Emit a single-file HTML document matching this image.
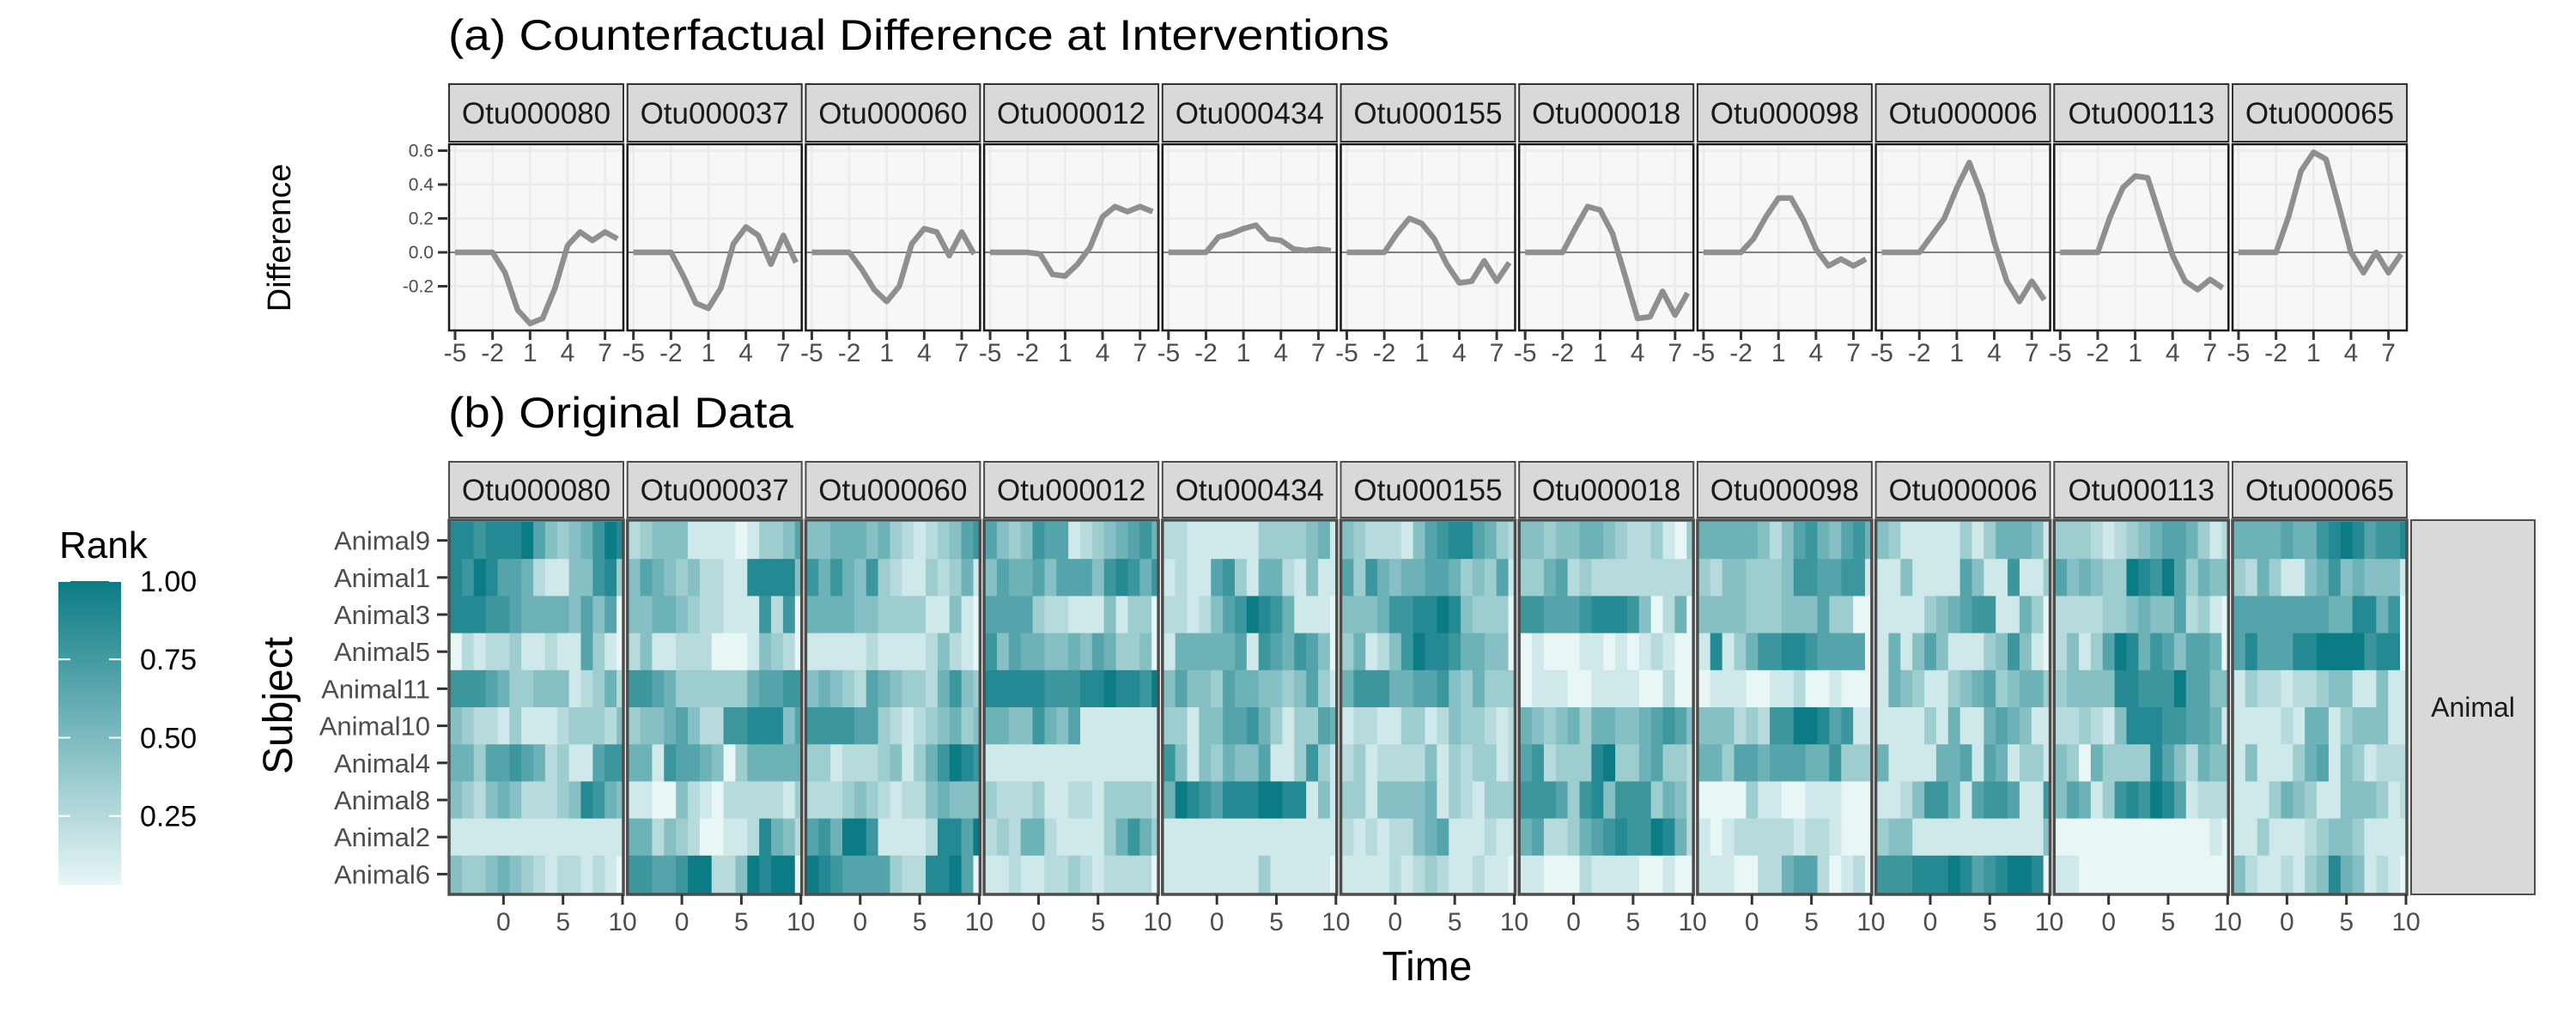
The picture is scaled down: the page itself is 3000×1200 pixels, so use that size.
<!DOCTYPE html>
<html><head><meta charset="utf-8"><style>
html,body{margin:0;padding:0;background:#fff;}
svg{display:block;font-family:"Liberation Sans",sans-serif;}
</style></head><body>
<svg id="chart" width="3000" height="1200" viewBox="0 0 3000 1200" xmlns="http://www.w3.org/2000/svg">
<defs>
<linearGradient id="rankGrad" x1="0" y1="1" x2="0" y2="0">
<stop offset="0" stop-color="#e8f6f6"/><stop offset="1" stop-color="#0b7b85"/>
</linearGradient>
</defs>
<text x="522" y="58" font-size="50" textLength="1096" lengthAdjust="spacingAndGlyphs" fill="#000">(a) Counterfactual Difference at Interventions</text>
<text x="522" y="498" font-size="50" textLength="402" lengthAdjust="spacingAndGlyphs" fill="#000">(b) Original Data</text>
<text transform="translate(338,277) rotate(-90)" text-anchor="middle" font-size="38" fill="#000">Difference</text>
<text transform="translate(340,822) rotate(-90)" text-anchor="middle" font-size="48" fill="#000">Subject</text>
<text x="1662" y="1142" text-anchor="middle" font-size="48" fill="#000">Time</text>
<g id="legend">
<text x="69" y="650" font-size="44" fill="#000">Rank</text>
<rect x="68" y="677" width="73" height="354" fill="url(#rankGrad)"/>
</g>
<g id="g"></g>
</svg>
<script>
// ---------- data ----------
const otuNames = ["Otu000080","Otu000037","Otu000060","Otu000012","Otu000434","Otu000155","Otu000018","Otu000098","Otu000006","Otu000113","Otu000065"];
const diffTimes = [-5,-4,-3,-2,-1,0,1,2,3,4,5,6,7,8];
const diffOtu080 = [0,0,0,0,-0.12,-0.34,-0.42,-0.39,-0.21,0.04,0.12,0.07,0.12,0.08];
const diffOtu037 = [0,0,0,0,-0.14,-0.30,-0.33,-0.21,0.05,0.15,0.10,-0.07,0.10,-0.06];
const diffOtu060 = [0,0,0,0,-0.10,-0.22,-0.29,-0.20,0.05,0.14,0.12,-0.02,0.12,-0.01];
const diffOtu012 = [0,0,0,0,-0.01,-0.13,-0.14,-0.07,0.03,0.21,0.27,0.24,0.27,0.24];
const diffOtu434 = [0,0,0,0,0.09,0.11,0.14,0.16,0.08,0.07,0.02,0.01,0.02,0.01];
const diffOtu155 = [0,0,0,0,0.11,0.20,0.17,0.08,-0.07,-0.18,-0.17,-0.05,-0.17,-0.06];
const diffOtu018 = [0,0,0,0,0.14,0.27,0.25,0.11,-0.14,-0.39,-0.38,-0.23,-0.37,-0.24];
const diffOtu098 = [0,0,0,0,0.08,0.21,0.32,0.32,0.19,0.02,-0.08,-0.04,-0.08,-0.04];
const diffOtu006 = [0,0,0,0,0.10,0.20,0.38,0.53,0.34,0.06,-0.17,-0.29,-0.17,-0.28];
const diffOtu113 = [0,0,0,0,0.21,0.38,0.45,0.44,0.21,-0.02,-0.17,-0.22,-0.16,-0.21];
const diffOtu065 = [0,0,0,0,0.21,0.48,0.59,0.55,0.28,0.00,-0.12,0.00,-0.12,-0.01];
const diffSeries = [diffOtu080,diffOtu037,diffOtu060,diffOtu012,diffOtu434,diffOtu155,diffOtu018,diffOtu098,diffOtu006,diffOtu113,diffOtu065];
const diffYTicks = [-0.2,0.0,0.2,0.4,0.6];
const diffYTickLabels = ["-0.2","0.0","0.2","0.4","0.6"];
const diffXTicks = [-5,-2,1,4,7];

const subjects = ["Animal9","Animal1","Animal3","Animal5","Animal11","Animal10","Animal4","Animal8","Animal2","Animal6"];
const heatTimes = [-4,-3,-2,-1,0,1,2,3,4,5,6,7,8,9,10];
const heatXTicks = [0,5,10];
const legendTicks = [0.25,0.50,0.75,1.00];
const legendTickLabels = ["0.25","0.50","0.75","1.00"];
// rank values (x10) per subject row, per time column
const rankOtu080 = [[8,8,7,8,8,8,9,6,4,3,4,5,7,9,8],[8,7,9,8,6,6,5,2,1,1,4,4,7,8,3],[8,8,8,7,7,6,5,5,5,5,4,6,4,6,0],[0,2,1,2,2,3,1,1,2,1,1,6,3,1,0],[7,7,7,6,5,3,3,4,4,4,1,2,3,5,2],[4,3,2,2,1,3,1,1,1,2,3,3,3,2,4],[5,5,3,6,6,7,6,5,2,3,1,1,6,7,7],[4,3,2,4,5,4,2,2,2,3,4,8,7,5,4],[1,1,1,1,1,1,1,1,1,1,1,1,1,1,1],[4,3,3,4,5,4,3,2,1,2,2,1,2,1,0]];
const rankOtu037 = [[2,3,4,4,4,1,1,1,1,0,1,3,3,4,6],[4,6,5,4,3,4,2,2,1,1,8,8,8,8,4],[4,4,5,5,4,3,2,2,1,1,1,7,2,7,0],[2,4,1,1,2,2,2,0,0,0,1,4,3,2,0],[7,7,6,5,3,3,3,3,3,3,5,6,6,7,7],[3,4,4,5,6,4,2,2,7,7,8,8,8,4,6],[5,5,1,7,6,6,5,4,0,3,5,5,5,5,5],[1,1,0,0,4,2,1,0,2,2,2,2,2,1,3],[5,5,2,4,3,2,0,0,1,1,2,8,5,4,2],[7,7,6,6,7,9,9,2,2,4,9,8,9,9,0]];
const rankOtu060 = [[4,4,5,5,5,4,5,3,2,1,2,3,4,6,7],[7,5,7,5,4,7,3,2,1,1,3,2,3,5,1],[5,5,5,5,4,4,3,3,3,3,1,1,4,1,0],[1,1,1,1,1,2,1,1,1,1,2,4,2,1,0],[4,5,4,3,2,6,5,4,3,3,2,5,7,4,3],[7,7,7,7,6,6,3,2,1,2,3,4,5,3,4],[3,3,1,2,2,2,3,4,1,3,5,7,9,8,7],[2,2,2,3,4,3,2,1,2,2,4,5,4,4,4],[6,7,5,9,9,7,1,1,1,1,2,8,8,6,9],[9,8,7,6,6,6,6,3,2,2,8,8,9,6,0]];
const rankOtu012 = [[6,4,3,4,7,6,6,1,2,3,4,5,6,7,5],[4,6,5,5,6,4,6,6,6,4,7,8,7,5,7],[6,6,6,6,3,2,2,1,1,1,4,1,3,3,0],[7,4,6,5,5,4,4,5,4,6,5,3,3,4,0],[8,8,8,8,8,7,7,7,8,8,9,8,8,7,9],[5,5,4,4,7,5,4,6,1,1,1,1,1,1,1],[1,1,1,1,1,1,1,1,1,1,1,1,1,1,1],[3,2,2,2,3,1,1,2,2,1,3,3,3,3,2],[2,3,2,5,5,2,1,1,1,1,3,5,7,5,3],[1,1,2,1,1,2,2,3,2,1,2,2,2,2,0]];
const rankOtu434 = [[2,2,1,1,1,1,1,1,3,3,3,3,4,5,1],[1,2,1,1,6,7,3,1,5,5,2,1,4,1,1],[2,2,1,2,4,6,7,9,8,7,5,1,1,1,0],[1,5,5,5,5,5,6,1,7,6,5,7,6,4,0],[4,6,4,4,3,6,5,5,4,4,3,4,6,3,1],[3,3,1,4,4,6,6,7,5,3,1,3,3,6,5],[7,4,1,4,3,5,4,4,6,1,1,3,7,3,1],[5,9,8,7,6,8,8,8,9,9,8,8,1,4,1],[1,1,1,1,1,1,1,1,1,1,1,1,1,1,1],[1,1,1,1,1,1,1,1,3,1,1,1,1,1,0]];
const rankOtu155 = [[4,3,2,2,2,1,4,6,7,8,8,6,5,3,2],[6,3,7,5,4,5,5,6,6,5,3,4,3,6,1],[4,4,4,5,7,7,8,8,9,8,4,3,3,3,0],[3,5,1,2,4,7,9,8,8,7,5,5,4,4,0],[5,7,7,7,5,5,6,6,7,4,3,5,3,3,3],[1,2,2,1,1,3,3,1,2,4,3,3,2,1,2],[2,3,1,2,2,2,2,4,1,3,2,3,3,1,2],[3,3,1,4,4,4,4,5,1,3,2,1,3,3,3],[2,1,2,1,2,2,4,5,6,1,1,1,2,1,1],[1,1,1,1,2,1,2,3,2,1,1,2,1,1,0]];
const rankOtu018 = [[4,4,3,4,4,5,5,4,3,2,2,3,1,0,3],[3,3,5,6,2,3,2,2,2,2,2,2,2,2,2],[7,7,6,6,6,7,8,8,8,7,4,0,2,5,0],[0,1,0,0,0,1,1,0,1,0,1,2,1,0,0],[0,1,1,1,0,0,1,1,1,1,0,0,2,0,0],[5,4,3,4,5,3,5,5,4,4,5,6,7,6,4],[6,7,2,3,3,3,8,9,3,3,5,6,3,3,2],[7,7,7,6,3,7,8,4,7,7,7,3,5,4,2],[5,6,2,2,3,5,6,7,8,7,7,9,8,5,2],[1,1,0,0,0,2,1,1,1,1,0,0,1,0,0]];
const rankOtu098 = [[5,5,5,5,5,4,2,4,6,7,5,4,6,7,5],[3,2,4,4,3,3,3,4,7,7,6,6,7,7,1],[4,4,4,4,3,3,3,4,4,4,6,3,3,0,0],[1,8,1,3,5,7,7,8,8,7,6,6,6,6,0],[0,1,1,1,0,0,1,1,2,0,0,1,0,0,0],[4,4,4,2,3,2,7,7,9,9,8,6,7,1,1],[5,5,3,6,6,5,6,6,6,5,5,7,3,3,3],[0,0,0,0,3,1,1,0,0,1,1,1,0,0,0],[1,0,1,2,2,2,2,2,1,2,2,1,0,0,0],[1,1,1,0,0,2,2,5,6,6,2,0,1,2,0]];
const rankOtu006 = [[4,3,1,1,1,1,1,3,1,3,5,5,5,4,1],[1,1,4,1,1,1,1,6,4,1,1,7,1,1,3],[1,1,1,1,3,4,5,6,7,7,1,1,5,3,0],[1,5,1,4,6,4,1,1,1,3,4,7,4,1,0],[1,5,4,3,1,1,3,4,5,6,3,4,5,5,3],[1,1,1,1,3,1,5,1,1,5,6,5,4,1,1],[5,1,1,1,1,5,5,6,1,6,5,1,3,3,1],[1,1,2,4,7,7,5,1,6,7,7,6,1,1,7],[3,4,4,1,1,1,1,1,1,1,1,1,1,1,4],[7,7,7,8,8,8,9,8,6,7,8,9,9,8,0]];
const rankOtu113 = [[3,3,3,2,1,2,3,4,5,6,6,5,3,1,2],[6,4,5,4,3,3,9,8,7,9,6,3,5,4,4],[2,2,2,2,3,3,4,5,4,4,6,2,3,1,0],[2,4,1,3,6,9,8,5,7,6,4,6,6,5,0],[3,4,4,4,4,8,8,7,7,7,9,6,6,4,4],[2,2,3,2,1,4,8,8,8,7,7,6,6,5,1],[4,3,0,5,3,3,3,3,8,6,4,2,5,4,4],[4,6,5,1,3,7,8,7,9,8,6,1,2,2,2],[0,0,0,0,0,0,0,0,0,0,0,0,0,1,0],[1,1,0,0,0,0,0,0,0,0,0,0,0,0,0]];
const rankOtu065 = [[5,5,5,5,6,5,5,7,8,9,8,6,7,7,8],[3,2,5,3,1,1,4,5,7,4,5,4,4,4,1],[6,6,6,6,6,6,6,6,5,5,8,8,5,7,0],[6,8,6,6,6,8,8,9,9,9,9,7,8,8,0],[1,3,2,2,1,2,2,3,4,4,1,1,4,1,1],[1,1,1,1,2,1,5,5,1,3,4,4,4,1,1],[1,4,1,1,1,3,5,6,1,4,3,1,2,2,2],[1,1,1,3,5,4,3,1,1,4,4,4,3,1,2],[1,1,3,1,1,1,2,3,4,4,3,1,1,1,1],[4,2,1,1,2,1,3,4,8,5,4,1,2,1,0]];
const rankPanels = [rankOtu080,rankOtu037,rankOtu060,rankOtu012,rankOtu434,rankOtu155,rankOtu018,rankOtu098,rankOtu006,rankOtu113,rankOtu065];

// ---------- drawing ----------
const NS = "http://www.w3.org/2000/svg";
const root = document.getElementById("g");
function mk(tag, attrs, parent, txt){
  const e = document.createElementNS(NS, tag);
  for (const k in attrs) e.setAttribute(k, attrs[k]);
  if (txt !== undefined) e.textContent = txt;
  (parent || root).appendChild(e);
  return e;
}
const PANEL0 = 522, PITCH = 207.7, PW = 205;
const topY0 = 168, topY1 = 385;
const yTop = v => 294 - v * 197.5;
const xTopUnit = 14.55;
const xTop = (i, t) => PANEL0 + i * PITCH + 8 + (t + 5) * xTopUnit;
const botY0 = 608, rowH = 43.2;
const cellW = 201 / 14.5;
const xBot = (i, t) => PANEL0 + i * PITCH + 2 + (t + 4.5) * cellW;
const yBot = r => botY0 + r * rowH;
function rankColor(v){
  const a=[232,246,246], b=[11,123,133];
  const c=a.map((x,k)=>Math.round(x+(b[k]-x)*v));
  return "rgb("+c.join(",")+")";
}

otuNames.forEach((name, i) => {
  const px = PANEL0 + i * PITCH;
  const tg = mk("g", {});
  
  
  const bg = mk("rect", {x:px, y:topY0, width:PW, height:topY1-topY0, fill:"#f7f7f7"}, tg);
  
  
  diffYTicks.forEach(v => {
    const gl = mk("line", {x1:px, x2:px+PW, y1:yTop(v), y2:yTop(v), stroke:"#ebebeb", "stroke-width":2.5}, tg);
    
    
  });
  diffXTicks.forEach(t => {
    const gl = mk("line", {x1:xTop(i,t), x2:xTop(i,t), y1:topY0, y2:topY1, stroke:"#ebebeb", "stroke-width":2.5}, tg);
    
    
  });
  const zl = mk("line", {x1:px, x2:px+PW, y1:yTop(0), y2:yTop(0), stroke:"#7f7f7f", "stroke-width":2}, tg);
  
  
  const pts = diffTimes.map((t,k) => xTop(i,t).toFixed(1)+","+yTop(diffSeries[i][k]).toFixed(1)).join(" ");
  const ln = mk("polyline", {points:pts, fill:"none", stroke:"#8f8f8f", "stroke-width":6.5, "stroke-linejoin":"round"}, tg);
  
  
  const bd = mk("rect", {x:px+1, y:topY0, width:PW-2, height:topY1-topY0, fill:"none", stroke:"#1a1a1a", "stroke-width":2.5}, tg);
  
  
  const st = mk("rect", {x:px+1, y:98, width:PW-2, height:67, fill:"#d9d9d9", stroke:"#333", "stroke-width":2}, tg);
  
  
  const stt = mk("text", {x:px+PW/2, y:144, "text-anchor":"middle", "font-size":35, fill:"#1a1a1a"}, tg, name);
  
  
  diffXTicks.forEach(t => {
    const tk = mk("line", {x1:xTop(i,t), x2:xTop(i,t), y1:topY1, y2:topY1+11, stroke:"#333", "stroke-width":3}, tg);
    
    
    const tl = mk("text", {x:xTop(i,t), y:421, "text-anchor":"middle", "font-size":30, fill:"#4d4d4d"}, tg, String(t));
    
    
  });

  const hg = mk("g", {});
  
  
  const hbg = mk("rect", {x:px, y:botY0, width:PW, height:rowH*10, fill:"#f7f7f7"}, hg);
  
  
  subjects.forEach((s, r) => {
    heatTimes.forEach((t, c) => {
      const v = rankPanels[i][r][c] / 9;
      const x0 = Math.max(xBot(i, t - 0.5), px);
      const x1 = Math.min(xBot(i, t + 0.5), px + PW - 2);
      const cell = mk("rect", {x:x0, y:yBot(r), width:Math.max(0, x1-x0+0.5), height:rowH+0.5, fill:rankColor(v)}, hg);
      
      
    });
  });
  const hb = mk("rect", {x:px+1, y:botY0-2, width:PW-2, height:rowH*10+4, fill:"none", stroke:"#4d4d4d", "stroke-width":3.5}, hg);
  
  
  const hs = mk("rect", {x:px+1, y:538, width:PW-2, height:65, fill:"#d9d9d9", stroke:"#4d4d4d", "stroke-width":2}, hg);
  
  
  const hst = mk("text", {x:px+PW/2, y:583, "text-anchor":"middle", "font-size":35, fill:"#1a1a1a"}, hg, name);
  
  
  heatXTicks.forEach(t => {
    const tk = mk("line", {x1:xBot(i,t), x2:xBot(i,t), y1:1042, y2:1054, stroke:"#333", "stroke-width":3}, hg);
    
    
    const tl = mk("text", {x:xBot(i,t), y:1084, "text-anchor":"middle", "font-size":30, fill:"#4d4d4d"}, hg, String(t));
    
    
  });
});

diffYTicks.forEach((v,k) => {
  const tk = mk("line", {x1:510, x2:521, y1:yTop(v), y2:yTop(v), stroke:"#333", "stroke-width":3});
  
  
  const tl = mk("text", {x:505, y:yTop(v)+7, "text-anchor":"end", "font-size":21, fill:"#4d4d4d"}, root, diffYTickLabels[k]);
  
  
});
subjects.forEach((s, r) => {
  const cy = yBot(r) + rowH/2;
  const tk = mk("line", {x1:509, x2:521, y1:cy, y2:cy, stroke:"#333", "stroke-width":3});
  
  
  const tl = mk("text", {x:501, y:cy+11, "text-anchor":"end", "font-size":31, fill:"#4d4d4d"}, root, s);
  
  
});
const rs = mk("rect", {x:2808, y:606, width:144, height:436, fill:"#d9d9d9", stroke:"#4d4d4d", "stroke-width":2});


const rst = mk("text", {x:2880, y:835, "text-anchor":"middle", "font-size":32, fill:"#1a1a1a"}, root, "Animal");


const legend = document.getElementById("legend");
const legY = v => 1031 - (v - 0.03) / 0.97 * 354;
legendTicks.forEach((v,k) => {
  const y = legY(v);
  const t1 = mk("line", {x1:68, x2:82, y1:y, y2:y, stroke:"#fff", "stroke-width":2}, legend);
  
  
  const t2 = mk("line", {x1:127, x2:141, y1:y, y2:y, stroke:"#fff", "stroke-width":2}, legend);
  
  
  const tl = mk("text", {x:163, y:y+12, "font-size":34, fill:"#000"}, legend, legendTickLabels[k]);
  
  
});
</script>
</body></html>
